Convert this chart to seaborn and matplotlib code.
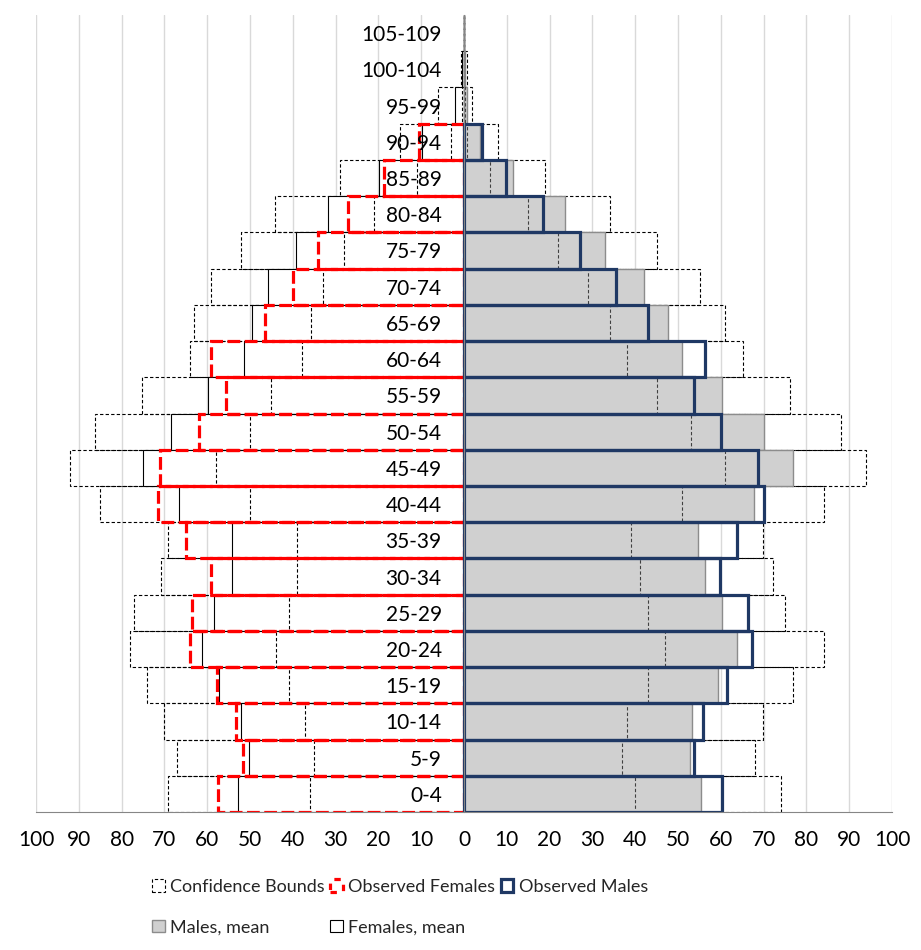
import matplotlib
matplotlib.use("Agg")
import matplotlib.pyplot as plt
from matplotlib.patches import Rectangle
import numpy as np
import pandas as pd
import seaborn as sns

# age groups, top of the pyramid first
ages = ["105-109", "100-104", "95-99", "90-94", "85-89", "80-84", "75-79",
        "70-74", "65-69", "60-64", "55-59", "50-54", "45-49", "40-44",
        "35-39", "30-34", "25-29", "20-24", "15-19", "10-14", "5-9", "0-4"]

# females (plotted to the left)
fem_mean = [0.0, 0.4, 2.2, 9.7, 19.8, 31.7, 39.3, 45.7, 49.5, 51.3, 59.7,
            68.4, 74.9, 66.5, 54.1, 54.1, 58.3, 61.1, 57.2, 52.1, 50.2, 52.7]
fem_upper = [0.0, 0.8, 6.0, 15.0, 29.0, 44.2, 52.1, 59.0, 63.0, 64.0, 75.2,
             86.1, 92.0, 85.0, 69.1, 70.9, 77.0, 78.0, 74.0, 70.0, 67.1, 69.1]
fem_lower = [0.0, 0.1, 0.4, 3.0, 10.9, 21.0, 28.0, 33.0, 35.8, 37.9, 45.0,
             50.0, 58.0, 50.0, 39.0, 39.0, 41.0, 44.0, 41.0, 37.1, 35.0, 35.9]
fem_obs = [None, None, None, 10.5, 18.6, 27.2, 34.0, 40.0, 46.5, 59.0, 55.7,
           61.8, 71.0, 71.6, 65.0, 59.2, 63.6, 64.0, 57.8, 53.3, 51.6, 57.5]

# males (plotted to the right)
male_mean = [0.0, 0.3, 0.7, 3.8, 11.5, 23.5, 33.0, 42.0, 47.6, 51.0, 60.2,
             70.1, 76.9, 67.8, 54.6, 56.3, 60.2, 63.9, 59.4, 53.2, 52.8, 55.3]
male_upper = [0.0, 0.8, 1.9, 8.0, 19.0, 34.1, 45.0, 55.1, 61.0, 65.1, 76.2,
              88.0, 93.9, 84.1, 69.9, 72.1, 75.0, 84.1, 76.9, 69.9, 67.9, 74.0]
male_lower = [0.0, 0.1, 0.2, 0.8, 6.1, 15.0, 21.9, 29.0, 34.1, 38.0, 45.1,
              53.0, 61.0, 50.9, 39.0, 41.1, 43.1, 47.0, 43.1, 38.0, 37.0, 39.9]
male_obs = [None, None, None, 4.2, 9.9, 18.5, 27.2, 35.4, 43.1, 56.2, 53.8,
            60.0, 68.6, 70.0, 63.7, 59.7, 66.3, 67.4, 61.4, 55.9, 53.8, 60.3]

RED = "#FF0000"
NAVY = "#1F3864"
GREY = "#D0D0D0"
GREY_EDGE = "#8C8C8C"
AXIS_GREY = "#868686"
THIN_DASH = (0, (3, 2))
RED_DASH = (0, (4, 1.4))

sns.set_style("white")
plt.rcParams["font.family"] = ["Lato", "DejaVu Sans"]

fig = plt.figure(figsize=(9.21, 9.5), dpi=100)
ax = fig.add_axes([36 / 921, 1 - 812 / 950, 856 / 921, 797 / 950])


def bars(values, sign, face, edge, lw, ls):
    df = pd.DataFrame({"age": ages, "value": values}).dropna()
    df["value"] = sign * df["value"].astype(float)
    n0 = len(ax.patches)
    sns.barplot(data=df, x="value", y="age", order=ages, orient="h",
                width=1.0, errorbar=None, ax=ax)
    for p in ax.patches[n0:]:
        p.set_facecolor(face)
        p.set_edgecolor(edge)
        p.set_linewidth(lw)
        p.set_linestyle(ls)


# females
bars(fem_upper, -1, "none", "black", 0.8, THIN_DASH)
bars(fem_mean, -1, "white", "black", 0.8, "solid")
bars(fem_lower, -1, "none", "black", 0.8, THIN_DASH)
bars(fem_obs, -1, "none", RED, 2.3, RED_DASH)

# males
bars(male_upper, 1, "none", "black", 0.8, THIN_DASH)
bars(male_mean, 1, GREY, GREY_EDGE, 1.0, "solid")
bars(male_lower, 1, "none", "#404040", 0.8, THIN_DASH)
bars(male_obs, 1, "none", NAVY, 2.3, "solid")

ax.set_xlim(-100, 100)
ax.set_ylim(len(ages) - 0.5, -0.5)
ticks = np.arange(-100, 101, 10)
ax.set_xticks(ticks)
ax.set_xticklabels([str(abs(t)) for t in ticks], fontsize=15, color="black")
ax.set_xlabel("")
ax.set_ylabel("")

ax.xaxis.grid(True, color="#D9D9D9", lw=1)
ax.yaxis.grid(False)
ax.set_axisbelow(True)
# age labels sit on top of the bars
ax.yaxis.set_zorder(5)

for s in ["top", "right"]:
    ax.spines[s].set_visible(False)
ax.spines["left"].set_position(("data", 0))
ax.spines["left"].set_color(AXIS_GREY)
ax.spines["bottom"].set_color(AXIS_GREY)

ax.tick_params(axis="x", length=5, color=AXIS_GREY, pad=8)
ax.tick_params(axis="y", which="major", length=0, pad=16, labelsize=15,
               labelcolor="black")
ax.set_yticks(np.arange(-0.5, len(ages), 1), minor=True)
ax.tick_params(axis="y", which="minor", length=4, color=AXIS_GREY)

handles = [
    Rectangle((0, 0), 1, 1, facecolor="white", edgecolor="black", lw=0.8, ls=THIN_DASH),
    Rectangle((0, 0), 1, 1, facecolor=GREY, edgecolor=GREY_EDGE, lw=1.0),
    Rectangle((0, 0), 1, 1, facecolor="white", edgecolor=RED, lw=2.3, ls=(0, (2, 2.5))),
    Rectangle((0, 0), 1, 1, facecolor="white", edgecolor="black", lw=0.8),
    Rectangle((0, 0), 1, 1, facecolor="white", edgecolor=NAVY, lw=2.3),
]
labels = ["Confidence Bounds", "Males, mean", "Observed Females",
          "Females, mean", "Observed Males"]
fig.legend(handles, labels, ncol=3, loc="upper left",
           bbox_to_anchor=(152 / 921, 1 - 879 / 950), frameon=False,
           fontsize=13, handlelength=0.7, handleheight=0.7,
           handletextpad=0.3, columnspacing=0.3, labelspacing=1.35,
           borderpad=0, borderaxespad=0)

fig.savefig("out.png", dpi=100)
